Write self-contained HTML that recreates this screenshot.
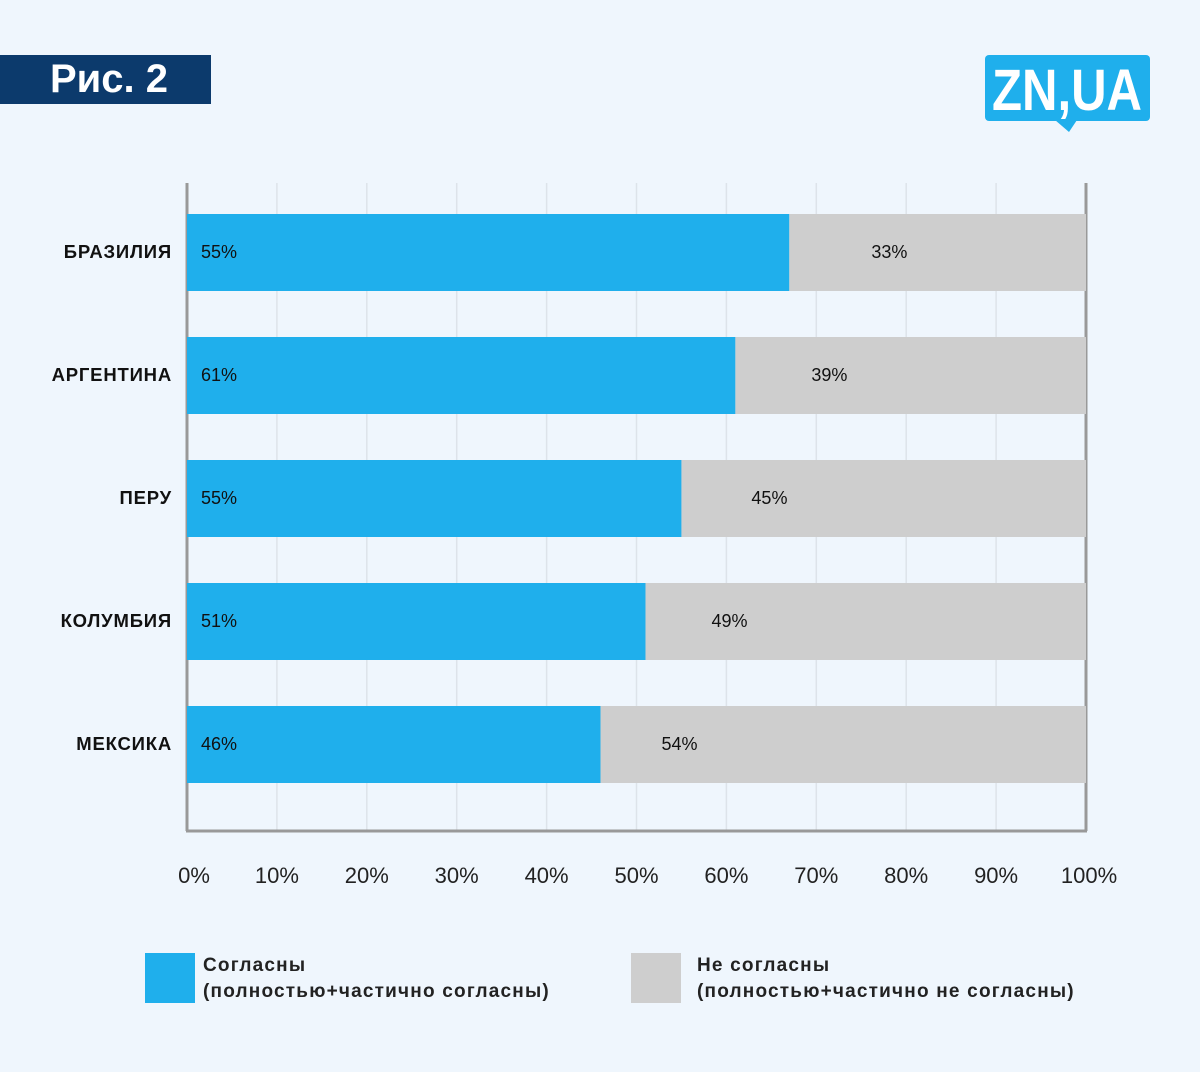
<!DOCTYPE html>
<html><head><meta charset="utf-8"><style>
body{margin:0;background:#eff6fd;font-family:"Liberation Sans",sans-serif;}
#root{position:relative;width:1200px;height:1072px;overflow:hidden;background:#eff6fd;}
</style></head><body>
<div id="root">
<div style="position:absolute;left:0;top:55px;width:211px;height:49px;background:#0c3a6c;color:#fff;font-weight:bold;font-size:40px;line-height:49px;text-indent:50px;">Рис. 2</div>
<svg style="position:absolute;left:985px;top:55px" width="170" height="80">
<rect x="0" y="0" width="165" height="66" rx="4" fill="#1fafec"/>
<polygon points="70,65 92,65 84,77" fill="#1fafec"/>
<text x="82" y="55" text-anchor="middle" font-family="Liberation Sans" font-weight="bold" font-size="58" fill="#fff" textLength="150" lengthAdjust="spacingAndGlyphs">ZN,UA</text>
</svg>
<svg id="chart" width="1200" height="1072" style="position:absolute;left:0;top:0"></svg>
<div style="position:absolute;left:145px;top:953px;">
<div style="position:absolute;left:0;top:0;width:50px;height:50px;background:#1fafec"></div>
<div style="position:absolute;left:58px;top:0px;white-space:nowrap;font-weight:bold;font-size:19px;letter-spacing:1.2px;line-height:26px;color:#222">Согласны<br>(полностью+частично согласны)</div>
</div>
<div style="position:absolute;left:631px;top:953px;">
<div style="position:absolute;left:0;top:0;width:50px;height:50px;background:#cecece"></div>
<div style="position:absolute;left:66px;top:0px;white-space:nowrap;font-weight:bold;font-size:19px;letter-spacing:1.2px;line-height:26px;color:#222">Не согласны<br>(полностью+частично не согласны)</div>
</div>
</div>
<script>
const categories=["БРАЗИЛИЯ","АРГЕНТИНА","ПЕРУ","КОЛУМБИЯ","МЕКСИКА"];
const agree=[55,61,55,51,46];
const disagree=[33,39,45,49,54];
const ticks=[0,10,20,30,40,50,60,70,80,90,100];
const ns="http://www.w3.org/2000/svg";
const svg=document.getElementById('chart');
const L=187,R=1086,T=183,B=831;
const x=v=>L+(R-L)*v/100;
const bandTop=i=>214+i*123;
const bh=77;
function el(t,a,txt){const e=document.createElementNS(ns,t);for(const k in a)e.setAttribute(k,a[k]);if(txt!=null)e.textContent=txt;svg.appendChild(e);return e;}
ticks.forEach(t=>{
 const g=el('line',{x1:x(t),x2:x(t),y1:T,y2:B,stroke:t==0||t==100?'#999':'#dde3ea','stroke-width':t==0||t==100?3:1.5});
 
 
 const lb=el('text',{x:x(t)+(t==0?7:t==100?3:0),y:883,'text-anchor':'middle','font-size':22,fill:'#222','font-family':'Liberation Sans'},t+'%');
 
 
});
const ax=el('line',{x1:L-1,x2:R+1,y1:B,y2:B,stroke:'#999','stroke-width':3});


categories.forEach((c,i)=>{
 const y=bandTop(i);const split=100-disagree[i];
 const b=el('rect',{x:x(0),y:y,width:x(split)-x(0),height:bh,fill:'#1fafec'});
 
 
 const g=el('rect',{x:x(split),y:y,width:x(100)-x(split),height:bh,fill:'#cecece'});
 
 
 const t1=el('text',{x:201,y:y+44,'font-size':18,fill:'#111','font-family':'Liberation Sans'},agree[i]+'%');
 
 
 const t2=el('text',{x:x(split)+133-disagree[i],y:y+44,'font-size':18,fill:'#111','text-anchor':'middle','font-family':'Liberation Sans'},disagree[i]+'%');
 
 
 const cl=el('text',{x:172,y:y+44,'font-size':18.5,'letter-spacing':0.8,'font-weight':'bold',fill:'#111','text-anchor':'end','font-family':'Liberation Sans'},c);
 
 
});
</script>
</body></html>
